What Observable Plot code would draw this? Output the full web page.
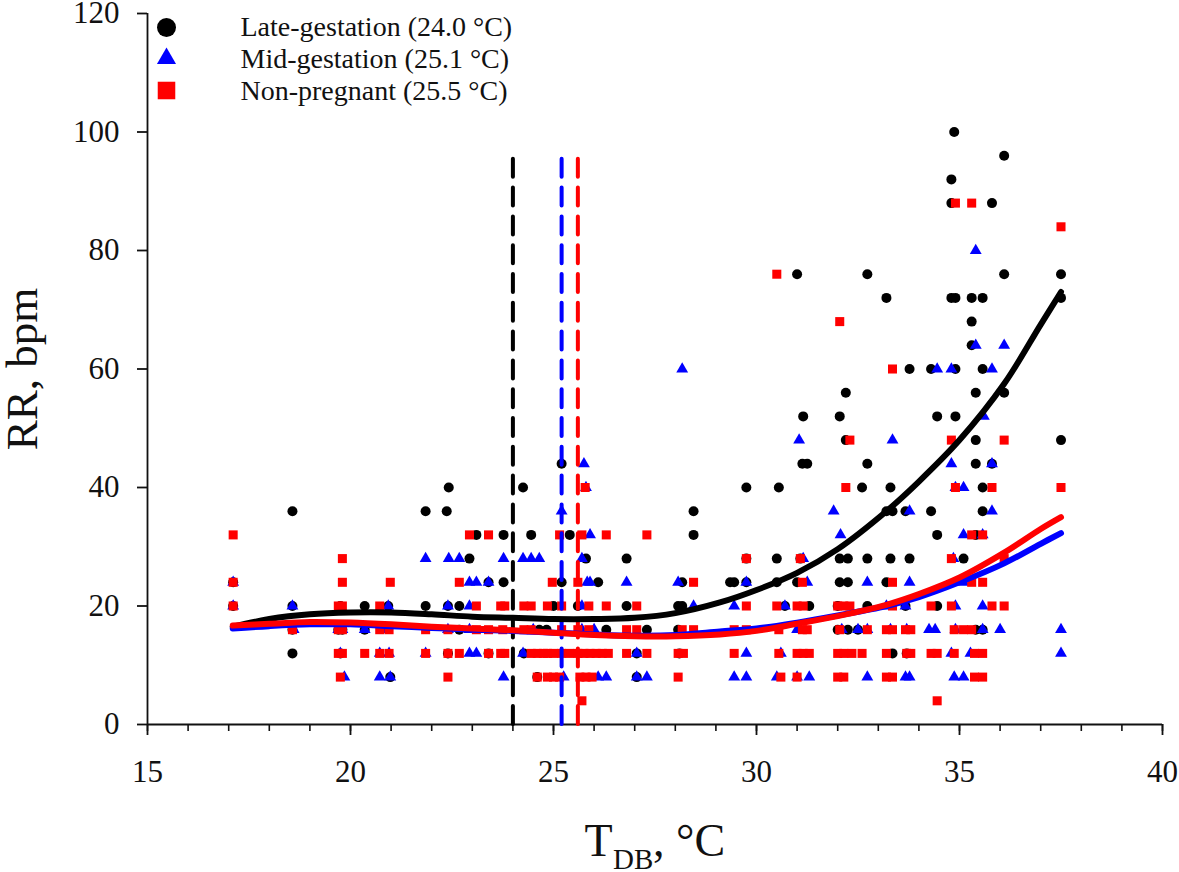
<!DOCTYPE html>
<html><head><meta charset="utf-8">
<script src="https://cdn.jsdelivr.net/npm/d3@7"></script>
<script src="https://cdn.jsdelivr.net/npm/@observablehq/plot@0.6"></script>
<style>html,body{margin:0;padding:0;background:#fff}svg{display:block;overflow:visible}</style>
</head><body><div id="chart"></div>
<script>
const seriesNames = ["Late-gestation (24.0 °C)", "Mid-gestation (25.1 °C)", "Non-pregnant (25.5 °C)"];
const seriesColors = ["#000000", "#0000ff", "#ff0000"];
const seriesSymbols = ["circle", "triangle", "square"];
const optimumTemps = [24.0, 25.2, 25.6];
const xTicks = [15, 20, 25, 30, 35, 40];
const yTicks = [0, 20, 40, 60, 80, 100, 120];

const lateRows = [
 [100,[34.87]],[96,[36.1]],[92,[34.8]],[88,[34.8,35.8]],
 [76,[31,32.73,36.1,37.5]],[72,[33.2,34.8,34.9,35.3,35.57,37.5]],[68,[35.3]],[64,[35.3]],
 [60,[33.77,34.3,34.9,35.57]],[56,[32.2,35.4,36.1]],[52,[31.15,32.05,34.45,34.9]],[48,[32.2,35.4,37.5]],
 [44,[25.2,31.13,31.25,32.73,35.4,35.8]],[40,[22.42,24.25,29.75,30.55,32.6,33.3,35.57]],
 [36,[18.57,21.85,22.37,28.45,33.2,33.35,33.67,34.3,35.57]],[32,[23.1,23.77,24.45,25.4,28.45,34.45,35.4]],
 [28,[22.93,25.8,26.8,29.75,30.5,31.08,32.05,32.25,32.73,33.3,33.77,35.1]],
 [24,[17.11,23.4,23.77,25.2,26.1,28.17,29.35,29.45,29.75,30.5,31,32.05,32.25,33.2]],
 [20,[17.11,18.57,19.75,20.35,20.93,21.85,22.4,22.68,25,25.6,26.8,28.07,28.17,30.7,31.3,32,32.73,33.67,34.45]],
 [16,[18.57,19.7,19.8,20.35,22.68,24.65,24.83,26.3,27.3,28.07,32,32.25,32.5,35.4,35.57]],
 [12,[18.57,19.75,22.4,23.4,24.27,27.05,28.1,33.35,33.7]],
 [8,[20.98,24.6,27.05]]
];
const midRows = [
 [80,[35.4]],[64,[35.4,36.1]],[60,[28.17,34.45,34.8,35.8]],[52,[35.6]],[48,[31.05,33.35]],
 [44,[25.75,34.8,35.8]],[40,[25.8,34.9,35.1]],[36,[25.2,31.9,33.77,35.8]],[32,[25.9,32.07,35.1,35.57]],
 [28,[21.85,22.42,22.68,23.77,24.25,24.45,24.65,25.7,31.15,34.85]],
 [24,[17.11,22.93,23.1,23.4,25.83,25.9,26.8,28.07,29.75,31.25,32.73,33.77,35.1]],
 [20,[17.11,18.57,20.93,22.4,22.93,25.7,28.45,29.45,30.7,33.2,33.67,34.9,35.57]],
 [16,[18.6,19.7,19.8,20.35,20.8,22.4,22.93,24.5,25.2,25.7,26,31,32.1,32.5,32.73,33.3,33.7,34.25,34.4,34.9,35.57,36,37.5]],
 [12,[19.75,20.72,20.95,21.85,22.93,23.1,24.25,27.05,29.75,30.6,34.8,35.27,37.5]],
 [8,[19.85,20.72,20.98,23.77,25.25,26.1,26.3,27.05,27.3,29.45,29.75,30.5,31,31.3,32.73,33.67,33.77,34.87,35.1]]
];
const nonRows = [
 [88,[34.9,35.3]],[84,[37.5]],[76,[30.5]],[68,[32.05]],[60,[33.35]],[48,[32.3,34.8,36.1]],
 [40,[25.78,32.2,34.9,35.8,37.5]],[32,[17.11,22.93,23.4,25.15,25.7,26.3,27.3,35.3,35.57]],
 [28,[19.8,29.75,31.08,34.8,36.1]],[24,[17.11,19.8,20.98,22.68,24.97,25.6,28.45,31.13,33.35,35.3,35.57]],
 [20,[17.11,19.7,19.8,20.72,23.1,23.7,23.8,24.27,24.45,24.85,25.2,25.87,26.3,27.05,29.75,30.5,31,31.15,32,32.15,32.3,33.35,34.3,34.8,35.8,36.1]],
 [16,[18.57,19.7,19.8,20.72,20.95,21.85,22.4,23.1,23.4,23.75,24.27,24.45,25.2,25.6,25.87,26.8,27.05,28.17,28.45,29.45,29.75,30.55,31.13,31.25,32.05,32.73,33.2,33.35,33.67,33.8,34.87,35.1,35.3]],
 [12,[19.7,19.8,20.35,20.72,20.95,21.85,22.4,22.68,23.4,23.7,23.8,24.45,24.6,24.75,24.85,25,25.2,25.4,25.6,25.75,25.9,26.05,26.2,26.35,26.8,27.3,28.07,28.2,29.45,30.55,31,31.15,31.3,32,32.15,32.35,32.6,33.2,33.7,33.8,34.3,34.45,34.87,35.37,35.57]],
 [8,[19.75,22.4,24.6,24.85,25,25.15,25.65,25.8,25.95,28.07,30.6,31,32,32.15,33.2,33.35,35.37,35.57]],
 [4,[25.7,34.45]]
];

const curveX = [17.1,18,19,20,21,22,23,24,25,26,27,28,29.1,30,31,32,33.2,34,35,36.1,37,37.5];
const lateCurve = [16.5,17.8,18.6,18.9,18.9,18.6,18.2,18,17.8,17.8,18,18.8,20.6,22.7,25.6,29.6,36,41,48,57.5,67.5,73];
const midCurve = [16.2,16.6,16.9,16.9,16.6,16.3,16,15.8,15.5,15.2,15,15.1,15.7,16.2,17.2,18.4,20,21.5,24,27.2,30.5,32.3];
const nonCurve = [16.7,17,17.3,17.2,16.9,16.5,16.2,15.9,15.5,15.1,14.9,14.9,15.2,15.8,17,18.3,20.2,22,24.8,29,33,35];

const flat = rows => rows.flatMap(([y, xs]) => xs.map(x => ({x, y})));
const allRows = [lateRows, midRows, nonRows];
const dotR = [5, 4.4, 5.1];
const legendDy = [14, 45, 77];
const legendTextDy = [14, 46, 78];
const legendR = [9.5, 7.1, 9.9];
const font = "'Liberation Serif', 'Times New Roman', serif";
const curves = [lateCurve, midCurve, nonCurve];

const fig = Plot.plot({
  width: 1179, height: 872,
  marginLeft: 147, marginRight: 17, marginTop: 13, marginBottom: 148,
  style: {fontFamily: font, background: "#fff", color: "#111", overflow: "visible"},
  x: {domain: [15, 40], label: null},
  y: {domain: [0, 120], label: null},
  marks: [
    Plot.axisX(d3.range(15, 41), {tickSize: 7, tickFormat: () => "", strokeWidth: 1.6, stroke: "#111", label: null}),
    Plot.axisX({ticks: xTicks, tickSize: 11, tickPadding: 24, fontSize: 31, strokeWidth: 1.8, stroke: "#111", fill: "#111", label: null}),
    Plot.axisY({ticks: yTicks, tickSize: 10, tickPadding: 18, fontSize: 31, strokeWidth: 1.8, stroke: "#111", fill: "#111", label: null}),
    Plot.ruleY([0], {stroke: "#111", strokeWidth: 1.8}),
    Plot.ruleX([15], {stroke: "#111", strokeWidth: 1.8}),
    ...allRows.map((rows, i) => Plot.dot(flat(rows), {x: "x", y: "y", r: dotR[i], symbol: () => seriesSymbols[i], fill: seriesColors[i], stroke: "none"})),
    ...optimumTemps.map((t, i) => Plot.ruleX([t], {y1: 0, y2: 95.5, stroke: seriesColors[i], strokeWidth: 4, strokeDasharray: "18,10.8", strokeLinecap: "round"})),
    ...curves.map((c, i) => Plot.line(curveX.map((x, j) => ({x, y: c[j]})), {x: "x", y: "y", stroke: seriesColors[i], strokeWidth: 6, curve: "catmull-rom", strokeLinecap: "round"})),
    ...seriesNames.map((n, i) => Plot.dot([n], {frameAnchor: "top-left", dx: 19, dy: legendDy[i], r: legendR[i], symbol: () => seriesSymbols[i], fill: seriesColors[i], stroke: "none"})),
    ...seriesNames.map((n, i) => Plot.text([n], {text: d => d, frameAnchor: "top-left", dx: 93, dy: legendTextDy[i], textAnchor: "start", lineAnchor: "middle", fontSize: 28, fill: "#111"})),
    Plot.text(["RR, bpm"], {text: d => d, frameAnchor: "left", rotate: -90, textAnchor: "middle", lineAnchor: "middle", dx: -125, fontSize: 45, fill: "#111"}),
    Plot.text(["T"], {text: d => d, frameAnchor: "bottom-left", dx: 437, dy: 116.3, textAnchor: "start", lineAnchor: "middle", fontSize: 46, fill: "#111"}),
    Plot.text(["DB"], {text: d => d, frameAnchor: "bottom-left", dx: 465.5, dy: 135.7, textAnchor: "start", lineAnchor: "middle", fontSize: 29, fill: "#111"}),
    Plot.text([", °C"], {text: d => d, frameAnchor: "bottom-left", dx: 505.5, dy: 116.3, textAnchor: "start", lineAnchor: "middle", fontSize: 46, fill: "#111"})
  ]
});
document.getElementById("chart").append(fig);
</script></body></html>
